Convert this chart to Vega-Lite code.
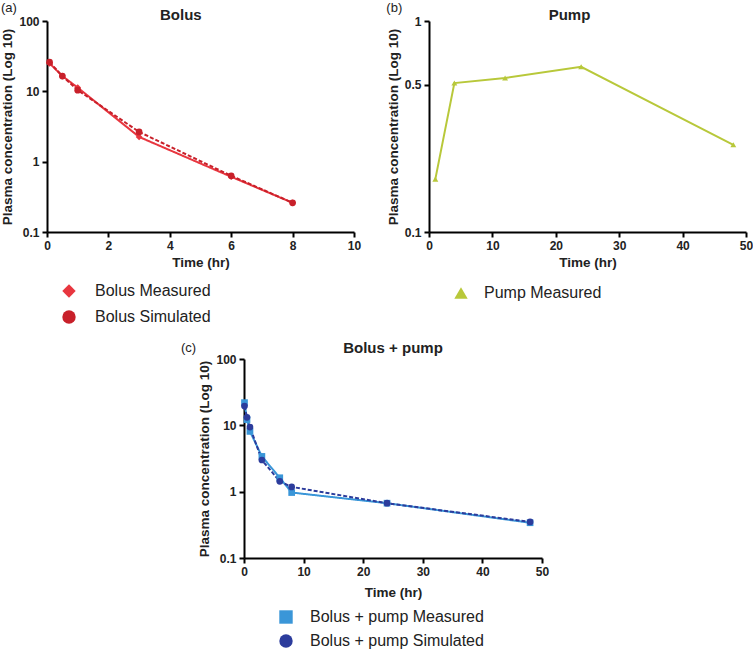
{
  "$schema": "https://vega.github.io/schema/vega-lite/v6.json",
  "background": "white",
  "padding": {"left": 0, "top": 2, "right": 0, "bottom": 0},
  "config": {
    "font": "Liberation Sans",
    "view": {"stroke": null},
    "axis": {"domainColor": "black", "domainWidth": 2, "tickColor": "black", "tickWidth": 2, "tickSize": 5, "labelFontWeight": "bold", "labelFontSize": 12, "labelColor": "#222", "titleFontSize": 13.5, "titleFontWeight": "bold", "titleColor": "#222", "grid": false, "labelPadding": 3, "labelFlush": false},
    "title": {"fontSize": 15, "fontWeight": "bold", "color": "#222"},
    "legend": {"orient": "bottom", "direction": "vertical", "title": null, "labelFontSize": 16, "labelColor": "#222", "symbolSize": 180, "rowPadding": 6, "symbolStrokeWidth": 0, "labelLimit": 400, "offset": 14, "padding": 0}
  },
  "datasets": {
    "bolus": [
      {"t": 0.083, "c": 25, "s": "Bolus Measured"},
      {"t": 0.5, "c": 16.5, "s": "Bolus Measured"},
      {"t": 1, "c": 11.3, "s": "Bolus Measured"},
      {"t": 3, "c": 2.25, "s": "Bolus Measured"},
      {"t": 6, "c": 0.61, "s": "Bolus Measured"},
      {"t": 8, "c": 0.26, "s": "Bolus Measured"},
      {"t": 0.083, "c": 26, "s": "Bolus Simulated"},
      {"t": 0.5, "c": 16.5, "s": "Bolus Simulated"},
      {"t": 1, "c": 10.4, "s": "Bolus Simulated"},
      {"t": 3, "c": 2.65, "s": "Bolus Simulated"},
      {"t": 6, "c": 0.63, "s": "Bolus Simulated"},
      {"t": 8, "c": 0.26, "s": "Bolus Simulated"}
    ],
    "pump": [
      {"t": 1, "c": 0.178, "s": "Pump Measured"},
      {"t": 4, "c": 0.508, "s": "Pump Measured"},
      {"t": 12, "c": 0.537, "s": "Pump Measured"},
      {"t": 24, "c": 0.607, "s": "Pump Measured"},
      {"t": 48, "c": 0.259, "s": "Pump Measured"}
    ],
    "both": [
      {"t": 0.083, "c": 22, "s": "Bolus + pump Measured"},
      {"t": 0.5, "c": 12.2, "s": "Bolus + pump Measured"},
      {"t": 1, "c": 8.1, "s": "Bolus + pump Measured"},
      {"t": 3, "c": 3.4, "s": "Bolus + pump Measured"},
      {"t": 6, "c": 1.62, "s": "Bolus + pump Measured"},
      {"t": 8, "c": 0.97, "s": "Bolus + pump Measured"},
      {"t": 24, "c": 0.67, "s": "Bolus + pump Measured"},
      {"t": 48, "c": 0.34, "s": "Bolus + pump Measured"},
      {"t": 0.083, "c": 19.5, "s": "Bolus + pump Simulated"},
      {"t": 0.5, "c": 13.2, "s": "Bolus + pump Simulated"},
      {"t": 1, "c": 9.4, "s": "Bolus + pump Simulated"},
      {"t": 3, "c": 3.0, "s": "Bolus + pump Simulated"},
      {"t": 6, "c": 1.43, "s": "Bolus + pump Simulated"},
      {"t": 8, "c": 1.18, "s": "Bolus + pump Simulated"},
      {"t": 24, "c": 0.67, "s": "Bolus + pump Simulated"},
      {"t": 48, "c": 0.35, "s": "Bolus + pump Simulated"}
    ]
  },
  "spacing": 16,
  "resolve": {"scale": {"color": "independent", "shape": "independent", "strokeDash": "independent", "x": "independent", "y": "independent"}, "legend": {"color": "independent", "shape": "independent", "strokeDash": "independent"}},
  "vconcat": [
    {
      "spacing": 25,
      "resolve": {"scale": {"color": "independent", "shape": "independent", "strokeDash": "independent", "x": "independent", "y": "independent"}, "legend": {"color": "independent", "shape": "independent", "strokeDash": "independent"}},
      "hconcat": [
        {
          "title": {"text": "(a)", "anchor": "start", "frame": "bounds", "fontSize": 13, "fontWeight": "normal", "offset": -7},
          "vconcat": [
            {
              "title": {"text": "Bolus", "offset": -8, "frame": "bounds"},
              "width": 307,
              "height": 211,
              "data": {"name": "bolus"},
              "encoding": {
                "x": {"field": "t", "type": "quantitative", "title": "Time (hr)", "scale": {"domain": [0, 10]}, "axis": {"values": [0, 2, 4, 6, 8, 10]}},
                "y": {"field": "c", "type": "quantitative", "title": "Plasma concentration (Log 10)", "scale": {"type": "log", "domain": [0.1, 100]}, "axis": {"values": [0.1, 1, 10, 100], "format": "~g"}},
                "color": {"field": "s", "type": "nominal", "scale": {"domain": ["Bolus Measured", "Bolus Simulated"], "range": ["#e8363f", "#c8202a"]}, "legend": {"symbolOffset": 14, "labelOffset": 18, "rowPadding": 10, "offset": 14}}
              },
              "layer": [
                {"mark": {"type": "line", "strokeWidth": 2},
                 "encoding": {"strokeDash": {"field": "s", "type": "nominal", "scale": {"domain": ["Bolus Measured", "Bolus Simulated"], "range": [[1, 0], [4, 2]]}, "legend": {"symbolOffset": 14, "labelOffset": 18, "rowPadding": 10, "offset": 14}}}},
                {"mark": {"type": "point", "filled": true, "opacity": 1, "size": 45},
                 "encoding": {"shape": {"field": "s", "type": "nominal", "scale": {"domain": ["Bolus Measured", "Bolus Simulated"], "range": ["diamond", "circle"]}, "legend": {"symbolOffset": 14, "labelOffset": 18, "rowPadding": 10, "offset": 14}}}}
              ]
            }
          ]
        },
        {
          "title": {"text": "(b)", "anchor": "start", "frame": "bounds", "fontSize": 13, "fontWeight": "normal", "offset": -7},
          "vconcat": [
            {
              "title": {"text": "Pump", "offset": -8, "frame": "bounds"},
              "width": 317,
              "height": 211,
              "data": {"name": "pump"},
              "encoding": {
                "x": {"field": "t", "type": "quantitative", "title": "Time (hr)", "scale": {"domain": [0, 50]}, "axis": {"values": [0, 10, 20, 30, 40, 50]}},
                "y": {"field": "c", "type": "quantitative", "title": "Plasma concentration (Log 10)", "scale": {"type": "log", "domain": [0.1, 1]}, "axis": {"values": [0.1, 0.5, 1], "format": "~g"}},
                "color": {"field": "s", "type": "nominal", "scale": {"domain": ["Pump Measured"], "range": ["#b8c83a"]}, "legend": {"symbolOffset": 24, "labelOffset": 15, "offset": 16}}
              },
              "layer": [
                {"mark": {"type": "line", "strokeWidth": 2}, "encoding": {}},
                {"mark": {"type": "point", "filled": true, "opacity": 1, "size": 35},
                 "encoding": {"shape": {"field": "s", "type": "nominal", "scale": {"domain": ["Pump Measured"], "range": ["triangle-up"]}, "legend": {"symbolOffset": 24, "labelOffset": 15, "offset": 16}}}}
              ]
            }
          ]
        }
      ]
    },
    {
      "spacing": 0,
      "resolve": {"scale": {"color": "independent", "shape": "independent", "strokeDash": "independent", "x": "independent", "y": "independent"}, "legend": {"color": "independent", "shape": "independent", "strokeDash": "independent"}},
      "hconcat": [
        {
          "width": 133,
          "height": 10,
          "data": {"values": []},
          "mark": "point"
        },
        {
          "title": {"text": "(c)", "anchor": "start", "frame": "bounds", "fontSize": 13, "fontWeight": "normal", "offset": -14, "dx": -17},
          "resolve": {"scale": {"color": "independent", "shape": "independent", "strokeDash": "independent"}, "legend": {"color": "independent", "shape": "independent", "strokeDash": "independent"}},
          "vconcat": [
            {
              "title": {"text": "Bolus + pump", "offset": -3},
              "width": 298,
              "height": 199,
              "data": {"name": "both"},
              "encoding": {
                "x": {"field": "t", "type": "quantitative", "title": "Time (hr)", "scale": {"domain": [0, 50]}, "axis": {"values": [0, 10, 20, 30, 40, 50], "titlePadding": 8}},
                "y": {"field": "c", "type": "quantitative", "title": "Plasma concentration (Log 10)", "scale": {"type": "log", "domain": [0.1, 100]}, "axis": {"values": [0.1, 1, 10, 100], "format": "~g"}},
                "color": {"field": "s", "type": "nominal", "scale": {"domain": ["Bolus + pump Measured", "Bolus + pump Simulated"], "range": ["#3a96d8", "#2c3c9c"]}, "legend": {"symbolOffset": 34, "labelOffset": 16, "offset": 10, "rowPadding": 8}}
              },
              "layer": [
                {"mark": {"type": "line", "strokeWidth": 2},
                 "encoding": {"strokeDash": {"field": "s", "type": "nominal", "scale": {"domain": ["Bolus + pump Measured", "Bolus + pump Simulated"], "range": [[1, 0], [4, 2]]}, "legend": {"symbolOffset": 34, "labelOffset": 16, "offset": 10, "rowPadding": 8}}}},
                {"mark": {"type": "point", "filled": true, "opacity": 1, "size": 45},
                 "encoding": {"shape": {"field": "s", "type": "nominal", "scale": {"domain": ["Bolus + pump Measured", "Bolus + pump Simulated"], "range": ["square", "circle"]}, "legend": {"symbolOffset": 34, "labelOffset": 16, "offset": 10, "rowPadding": 8}}}}
              ]
            }
          ]
        }
      ]
    }
  ]
}
